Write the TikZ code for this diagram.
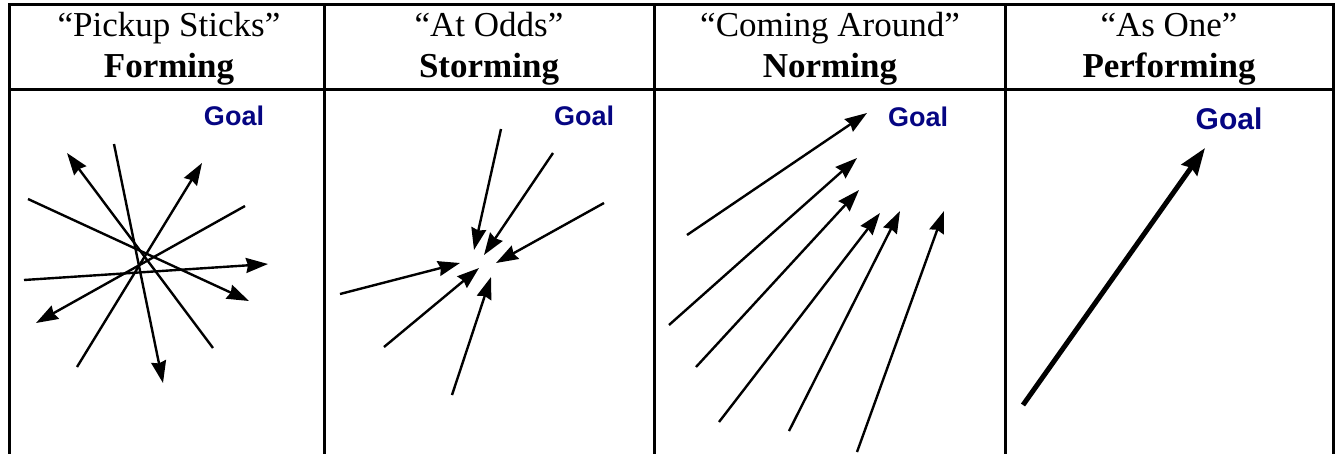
\documentclass[tikz,border=0pt]{standalone}
\usepackage{fontspec}
\setmainfont{Liberation Serif}
\newfontfamily\goalfont{Liberation Sans}
\usetikzlibrary{arrows.meta}
\definecolor{goalblue}{RGB}{5,5,130}
\begin{document}
\begin{tikzpicture}[x=1pt,y=-1pt,
  grid/.style={line width=3pt},
  hdr/.style={font=\fontsize{35}{40}\selectfont, inner sep=0pt, anchor=base},
  hdrb/.style={font=\bfseries\fontsize{35}{40}\selectfont, inner sep=0pt, anchor=base},
  goal/.style={font=\goalfont\bfseries\fontsize{27}{30}\selectfont, text=goalblue, inner sep=0pt},
  goalbig/.style={goal, font=\goalfont\bfseries\fontsize{30}{33}\selectfont},
  arr/.style={line width=2.4pt, -{Stealth[length=22pt,width=15pt,inset=2pt]}},
  bigarr/.style={line width=5pt, -{Stealth[length=27pt,width=19pt,inset=3pt]}}]
\useasboundingbox (0,0) rectangle (1335,453);
% table grid
\draw[grid] (8,4.5) -- (1334.5,4.5);
\draw[grid] (9.5,89) -- (1333,89);
\foreach \x in {9.5,324,654,1005,1333} \draw[grid] (\x,3) -- (\x,460);
% headers
\node[hdr]  (h1a) at (169,36) {“Pickup Sticks”};
\node[hdrb] (h1b) at (169,77) {Forming};
\node[hdr]  (h2a) at (489,36) {“At Odds”};
\node[hdrb] (h2b) at (489,77) {Storming};
\node[hdr]  (h3a) at (830,36) {“Coming Around”};
\node[hdrb] (h3b) at (830,77) {Norming};
\node[hdr]  (h4a) at (1169,36) {“As One”};
\node[hdrb] (h4b) at (1169,77) {Performing};
% goals
\node[goal] (g1) at (234,116) {Goal};
\node[goal] (g2) at (584,116) {Goal};
\node[goal] (g3) at (918,117) {Goal};
\node[goalbig] (g4) at (1229,119) {Goal};
% arrows
\foreach \n/\sx/\sy/\tx/\ty in {
  a1/114/144/163/383, a2/213/348/67/153, a3/77/367/202/163,
  a4/28/199/249/301, a5/245/206/36/323, a6/24/280/268/264,
  b1/501/129/474/250, b2/553/153/484/255, b3/604/203/496/263,
  b4/340/294/460/263, b5/384/347/479/268, b6/452/395/491/277,
  c1/687/235/867/113, c2/669/325/857/158, c3/696/367/859/190,
  c4/719/422/880/213, c5/789/431/900/211, c6/857/452/944/211}{
  \coordinate (\n s) at (\sx,\sy);
  \coordinate (\n t) at (\tx,\ty);
  \draw[arr] (\n s) -- (\n t);
}
\coordinate (ds) at (1023,405);
\coordinate (dt) at (1205,148);
\draw[bigarr] (ds) -- (dt);
\end{tikzpicture}
\end{document}
